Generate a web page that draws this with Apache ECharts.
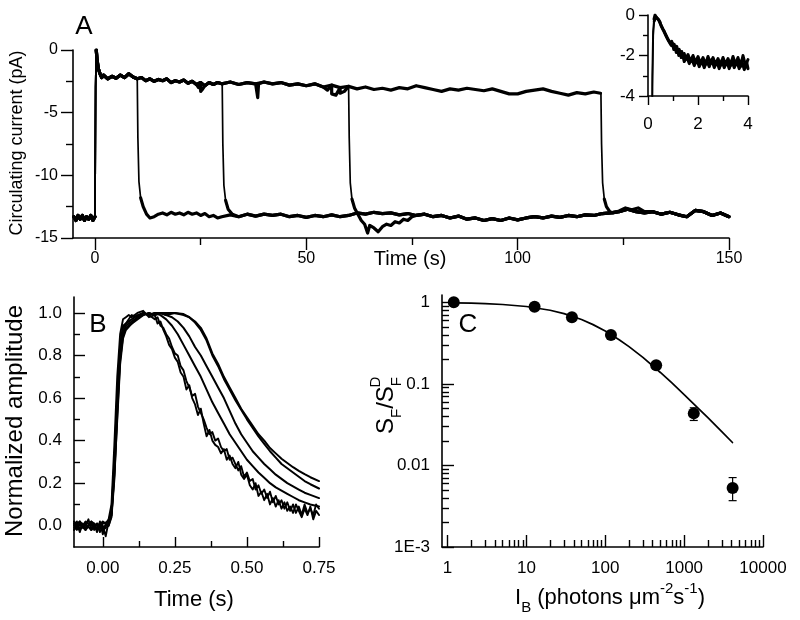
<!DOCTYPE html>
<html>
<head>
<meta charset="utf-8">
<script src="https://cdn.jsdelivr.net/npm/echarts@6/dist/echarts.min.js"></script>
<style>
html,body{margin:0;padding:0;background:#fff;}
#chart{width:800px;height:620px;}
</style>
</head>
<body>
<div id="chart"></div>
<script>
// ---------------- Panel A: circulating current traces ----------------
const aPre = [[-5,-13.3],[-4.5,-13.6],[-4,-13.2],[-3.5,-13.5],[-3,-13.2],[-2.5,-13.6],[-2,-13.3],[-1.5,-13.5],[-1,-13.2],[-0.5,-13.6],[0,-13.3]];
const aRise = [[0.15,-3],[0.3,0],[0.5,-0.8],[0.8,-1.5],[1.2,-1.9],[1.6,-2.2]];
const aTop = [[2,-2.0],[3,-2.3],[4,-2.1],[5,-2.25],[6,-2.0],[7,-2.2],[8,-1.9],[9,-2.15],[10,-2.3],[11,-2.2],[12,-2.45],[13,-2.3],[14,-2.5],[15,-2.35],[16,-2.45],[17,-2.3],[18,-2.6],[19,-2.45],[20,-2.55],[21,-2.4],[22,-2.65],[23,-2.5],[24,-2.75],[25,-2.6],[26,-2.85],[27,-2.6],[28,-2.75],[29,-2.6],[30,-2.7],[32,-2.55],[34,-2.75],[36,-2.6],[38,-2.7],[40,-2.55],[42,-2.7],[44,-2.6],[46,-2.8],[48,-2.7],[50,-2.85],[52,-2.7],[54,-2.95],[56,-2.8],[58,-3.0],[60,-2.9],[62,-3.1],[64,-2.95],[66,-3.15],[68,-3.05],[70,-3.2],[72,-3.0],[74,-3.1],[76,-2.85],[78,-3.0],[80,-3.15],[82,-3.3],[84,-3.1],[86,-3.2],[88,-3.05],[90,-3.15],[92,-3.25],[94,-3.1],[96,-3.3],[98,-3.5],[100,-3.5],[102,-3.3],[104,-3.2],[106,-3.1],[108,-3.3],[110,-3.45],[112,-3.6],[114,-3.4],[116,-3.5],[118,-3.35],[119.6,-3.45]];
const aTopAlt = [[24.5,-3.0],[25,-3.3],[25.5,-3.1],[38.3,-2.7],[38.5,-3.8],[38.7,-2.7],[55,-3.2],[56,-3.5],[57,-3.6],[58,-3.45],[59,-3.3]];
const aLow = [[14,-13.3],[15,-13.1],[16,-13.0],[17,-13.15],[18,-12.95],[19,-13.1],[20,-13.0],[21,-13.15],[22,-12.95],[23,-13.1],[24,-13.0],[25,-13.2],[26,-13.05],[27,-13.3],[28,-13.2],[29,-13.4],[30,-13.3],[32,-13.15],[34,-13.3],[36,-13.1],[38,-13.25],[40,-13.1],[42,-13.2],[44,-13.1],[46,-13.3],[48,-13.2],[50,-13.35],[52,-13.2],[54,-13.3],[56,-13.15],[58,-13.3],[60,-13.2],[62,-13.0],[64,-13.1],[66,-12.95],[68,-13.05],[70,-13.0],[72,-13.15],[74,-13.05],[76,-13.2],[78,-13.1],[80,-13.3],[82,-13.2],[84,-13.4],[86,-13.25],[88,-13.5],[90,-13.4],[92,-13.6],[94,-13.45],[96,-13.6],[98,-13.4],[100,-13.55],[102,-13.4],[104,-13.3],[106,-13.4],[108,-13.25],[110,-13.35],[112,-13.2],[114,-13.3],[116,-13.15],[118,-13.2],[120,-13.05],[122,-13.0],[124,-12.9],[126,-12.7],[128,-12.9],[130,-13.0],[132,-12.9],[134,-13.1],[136,-12.95],[138,-13.15],[140,-13.3],[142,-12.8],[144,-12.9],[146,-13.2],[148,-13.0],[150,-13.3]];
const aDrop10 = [[10,-2.3],[10.15,-7],[10.4,-10.5],[10.8,-11.8],[11.4,-12.5],[12.2,-13.1],[13,-13.4]];
const aDrop30 = [[30.1,-2.7],[30.25,-7.5],[30.5,-10.8],[30.9,-12],[31.5,-12.7],[32.5,-13.1]];
const aDrop60 = [[60.0,-2.9],[60.15,-7],[60.4,-10.6],[60.8,-11.9],[61.4,-12.6],[62.2,-13.1],[63,-13.6],[63.8,-13.9],[64.5,-14.6],[65,-14.0],[66,-14.2],[67,-14.5],[68,-14.1],[69,-13.9],[70,-14.0],[71,-13.7],[72,-13.8],[73,-13.5],[74,-13.6],[75,-13.3]];
const aDrop120 = [[119.7,-3.45],[119.85,-7.5],[120.1,-10.6],[120.5,-11.9],[121,-12.5],[121.8,-12.9],[122.6,-13.0],[124,-12.85],[125.5,-12.6],[127,-12.75],[128.5,-12.6],[130,-12.9]];
const aXTicks = [0,50,100,150];
const aXMinorTicks = [25,75,125];

// ---------------- Inset: first 4 s ----------------
const insetTraceA = [[0.15,-13.3],[0.18,-3.5],[0.21,-1.0],[0.25,-0.3],[0.3,-0.1],[0.35,-0.05],[0.4,-0.2],[0.45,-0.3],[0.5,-0.45],[0.55,-0.5],[0.6,-0.7],[0.65,-0.8],[0.7,-0.95],[0.75,-1.0],[0.8,-1.2],[0.85,-1.25],[0.9,-1.4],[0.95,-1.3],[1.0,-1.55],[1.05,-1.45],[1.1,-1.7],[1.15,-1.55],[1.2,-1.85],[1.25,-1.7],[1.3,-1.95],[1.35,-1.8],[1.4,-2.1],[1.45,-1.9],[1.5,-2.2],[1.6,-1.95],[1.7,-2.3],[1.8,-2.0],[1.9,-2.35],[2.0,-2.05],[2.1,-2.4],[2.2,-2.1],[2.3,-2.45],[2.4,-2.05],[2.5,-2.4],[2.6,-2.1],[2.7,-2.45],[2.8,-2.15],[2.9,-2.5],[3.0,-2.1],[3.1,-2.45],[3.2,-2.15],[3.3,-2.5],[3.4,-2.05],[3.5,-2.45],[3.6,-2.1],[3.7,-2.55],[3.8,-2.0],[3.9,-2.5],[4.0,-2.2]];
const insetTraceB = [[0.14,-13.3],[0.17,-3],[0.2,-0.8],[0.24,-0.2],[0.28,0],[0.33,-0.1],[0.38,-0.1],[0.43,-0.25],[0.48,-0.35],[0.53,-0.55],[0.58,-0.6],[0.63,-0.8],[0.68,-0.85],[0.73,-1.05],[0.78,-1.1],[0.83,-1.3],[0.88,-1.25],[0.93,-1.5],[0.98,-1.4],[1.03,-1.7],[1.08,-1.55],[1.13,-1.85],[1.18,-1.7],[1.23,-2.0],[1.28,-1.85],[1.33,-2.1],[1.38,-1.95],[1.45,-2.3],[1.55,-2.05],[1.65,-2.4],[1.75,-2.15],[1.85,-2.5],[1.95,-2.2],[2.05,-2.55],[2.15,-2.25],[2.25,-2.6],[2.35,-2.25],[2.45,-2.55],[2.55,-2.2],[2.65,-2.6],[2.75,-2.3],[2.85,-2.65],[2.95,-2.25],[3.05,-2.6],[3.15,-2.3],[3.25,-2.65],[3.35,-2.25],[3.45,-2.6],[3.55,-2.3],[3.65,-2.65],[3.75,-2.25],[3.85,-2.7],[3.95,-2.35],[4.0,-2.65]];

// ---------------- Panel B: normalized responses ----------------
const bTrace1 = [[-0.1,0.01],[-0.09,-0.02],[-0.08,0.02],[-0.07,-0.01],[-0.06,0.0],[-0.05,0.03],[-0.04,-0.02],[-0.03,0.01],[-0.02,-0.03],[-0.01,0.02],[0,-0.04],[0.01,0.01],[0.02,0.03],[0.03,0.1],[0.04,0.38],[0.05,0.7],[0.06,0.9],[0.07,0.97],[0.08,0.98],[0.09,0.99],[0.1,0.98],[0.12,1.0],[0.14,1.01],[0.16,0.98],[0.18,0.99],[0.19,0.95],[0.2,0.96],[0.21,0.92],[0.22,0.89],[0.23,0.85],[0.24,0.83],[0.25,0.79],[0.26,0.77],[0.27,0.72],[0.28,0.7],[0.29,0.64],[0.3,0.66],[0.31,0.6],[0.32,0.57],[0.33,0.52],[0.34,0.55],[0.35,0.48],[0.36,0.42],[0.37,0.45],[0.38,0.4],[0.39,0.38],[0.4,0.37],[0.41,0.34],[0.42,0.36],[0.43,0.31],[0.44,0.33],[0.45,0.29],[0.46,0.27],[0.47,0.3],[0.48,0.24],[0.49,0.22],[0.5,0.24],[0.51,0.19],[0.52,0.17],[0.53,0.2],[0.54,0.14],[0.55,0.16],[0.56,0.12],[0.57,0.15],[0.58,0.1],[0.59,0.13],[0.6,0.09],[0.61,0.12],[0.62,0.08],[0.63,0.11],[0.64,0.07],[0.65,0.09],[0.66,0.06],[0.67,0.1],[0.68,0.07],[0.69,0.04],[0.7,0.08],[0.71,0.05],[0.72,0.09],[0.73,0.03],[0.74,0.07],[0.75,0.05]];
const bTrace2 = [[-0.1,-0.01],[-0.09,0.02],[-0.08,-0.03],[-0.07,0.01],[-0.06,-0.02],[-0.05,0.0],[-0.04,0.02],[-0.03,-0.02],[-0.02,0.01],[-0.01,-0.03],[0,0.0],[0.01,-0.05],[0.02,0.02],[0.03,0.07],[0.04,0.3],[0.05,0.62],[0.06,0.85],[0.07,0.94],[0.08,0.95],[0.09,0.97],[0.1,0.99],[0.12,0.98],[0.14,1.0],[0.16,0.99],[0.18,0.97],[0.19,0.98],[0.2,0.94],[0.21,0.93],[0.22,0.9],[0.23,0.88],[0.24,0.84],[0.25,0.81],[0.26,0.8],[0.27,0.75],[0.28,0.73],[0.29,0.68],[0.3,0.65],[0.31,0.61],[0.32,0.62],[0.33,0.56],[0.34,0.53],[0.35,0.5],[0.36,0.46],[0.37,0.43],[0.38,0.44],[0.39,0.4],[0.4,0.41],[0.41,0.37],[0.42,0.35],[0.43,0.36],[0.44,0.31],[0.45,0.32],[0.46,0.29],[0.47,0.26],[0.48,0.28],[0.49,0.23],[0.5,0.25],[0.51,0.21],[0.52,0.22],[0.53,0.17],[0.54,0.19],[0.55,0.15],[0.56,0.17],[0.57,0.13],[0.58,0.16],[0.59,0.11],[0.6,0.14],[0.61,0.1],[0.62,0.12],[0.63,0.08],[0.64,0.11],[0.65,0.07],[0.66,0.1],[0.67,0.06],[0.68,0.09],[0.69,0.05],[0.7,0.1],[0.71,0.06],[0.72,0.08],[0.73,0.05],[0.74,0.1],[0.75,0.08]];
const bTrace3 = [[-0.1,0.0],[-0.08,0.02],[-0.06,-0.01],[-0.04,0.01],[-0.02,-0.02],[0,0.01],[0.02,0.02],[0.03,0.06],[0.04,0.28],[0.05,0.6],[0.06,0.84],[0.07,0.93],[0.08,0.95],[0.1,0.97],[0.12,0.99],[0.14,1.0],[0.16,0.99],[0.18,1.0],[0.2,0.99],[0.22,0.97],[0.24,0.94],[0.26,0.9],[0.28,0.85],[0.3,0.8],[0.32,0.75],[0.34,0.7],[0.36,0.64],[0.38,0.58],[0.4,0.53],[0.42,0.48],[0.44,0.43],[0.46,0.39],[0.48,0.35],[0.5,0.31],[0.52,0.28],[0.54,0.25],[0.56,0.225],[0.58,0.2],[0.6,0.18],[0.62,0.165],[0.64,0.15],[0.66,0.135],[0.68,0.12],[0.7,0.11],[0.72,0.1],[0.75,0.09]];
const bTrace4 = [[-0.1,0.02],[-0.08,-0.01],[-0.06,0.01],[-0.04,-0.02],[-0.02,0.01],[0,-0.01],[0.02,0.01],[0.03,0.05],[0.04,0.25],[0.05,0.55],[0.06,0.8],[0.07,0.91],[0.08,0.94],[0.1,0.96],[0.12,0.98],[0.14,0.99],[0.16,1.0],[0.18,0.99],[0.2,1.0],[0.22,0.99],[0.24,0.98],[0.26,0.96],[0.28,0.93],[0.3,0.89],[0.32,0.84],[0.34,0.8],[0.36,0.75],[0.38,0.7],[0.4,0.65],[0.42,0.6],[0.44,0.54],[0.46,0.48],[0.48,0.43],[0.5,0.39],[0.52,0.35],[0.54,0.32],[0.56,0.29],[0.58,0.265],[0.6,0.24],[0.62,0.22],[0.64,0.2],[0.66,0.185],[0.68,0.17],[0.7,0.155],[0.72,0.145],[0.75,0.13]];
const bTrace5 = [[-0.1,-0.02],[-0.08,0.01],[-0.06,-0.02],[-0.04,0.02],[-0.02,0.0],[0,-0.02],[0.02,0.0],[0.03,0.04],[0.04,0.22],[0.05,0.52],[0.06,0.78],[0.07,0.89],[0.08,0.93],[0.1,0.95],[0.12,0.98],[0.14,1.0],[0.16,0.99],[0.18,1.0],[0.2,1.0],[0.22,0.99],[0.25,1.0],[0.28,0.995],[0.3,0.98],[0.32,0.955],[0.34,0.92],[0.36,0.87],[0.38,0.8],[0.4,0.75],[0.42,0.69],[0.44,0.64],[0.46,0.59],[0.48,0.545],[0.5,0.5],[0.52,0.46],[0.54,0.42],[0.56,0.385],[0.58,0.35],[0.6,0.32],[0.62,0.29],[0.64,0.27],[0.66,0.25],[0.68,0.23],[0.7,0.21],[0.72,0.195],[0.75,0.175]];
const bTrace6 = [[-0.1,0.01],[-0.08,-0.02],[-0.06,0.02],[-0.04,0.0],[-0.02,-0.01],[0,0.02],[0.02,0.0],[0.03,0.05],[0.04,0.24],[0.05,0.5],[0.06,0.76],[0.07,0.88],[0.08,0.92],[0.1,0.95],[0.12,0.97],[0.14,0.99],[0.16,1.0],[0.18,0.99],[0.2,1.0],[0.22,1.0],[0.25,1.0],[0.28,0.99],[0.3,0.98],[0.32,0.96],[0.34,0.93],[0.36,0.88],[0.38,0.81],[0.4,0.76],[0.42,0.7],[0.44,0.65],[0.46,0.6],[0.48,0.55],[0.5,0.51],[0.52,0.47],[0.54,0.43],[0.56,0.4],[0.58,0.365],[0.6,0.34],[0.62,0.315],[0.64,0.295],[0.66,0.275],[0.68,0.258],[0.7,0.242],[0.72,0.228],[0.75,0.21]];
const bXTicks = [0,0.25,0.5,0.75];
const bXMinorTicks = [0.125,0.375,0.625];
const bYTicks = [0,0.2,0.4,0.6,0.8,1.0];
const bYMinorTicks = [0.1,0.3,0.5,0.7,0.9];

// ---------------- Panel C: sensitivity vs background ----------------
const cIntensity = [1.2, 12.7, 37.8, 118, 442, 1325, 4120];
const cRatio = [1.0, 0.88, 0.655, 0.397, 0.169, 0.0435, 0.0053];
const cErrLow = [1.0, 0.88, 0.655, 0.397, 0.155, 0.0356, 0.0037];
const cErrHigh = [1.0, 0.88, 0.655, 0.397, 0.185, 0.0509, 0.0071];
const cFitIntensity = [1.2, 2, 3, 5, 10, 20, 30, 50, 70, 100, 150, 200, 300, 500, 700, 1000, 1500, 2000, 3000, 4100];
const cFitRatio = [0.985, 0.976, 0.964, 0.941, 0.889, 0.8, 0.727, 0.615, 0.533, 0.444, 0.348, 0.286, 0.211, 0.138, 0.1026, 0.074, 0.0506, 0.0385, 0.026, 0.0191];
const cXDecadeLabels = ['1','10','100','1000','10000'];
const cYDecadeLabels = ['1E-3','0.01','0.1','1'];

// ---------------- build ----------------
const FONT = 'Liberation Sans, Arial, sans-serif';
const BLACK = '#000';

function upTo(arr, t) { return arr.filter(p => p[0] < t); }
function after(arr, t) { return arr.filter(p => p[0] > t); }
function mergeAlt(base, alt) {
  const out = base.slice();
  alt.forEach(p => out.push(p));
  out.sort((a, b) => a[0] - b[0]);
  return out;
}
const traceA10 = [].concat(aPre, aRise, upTo(aTop, 10), aDrop10, after(aLow, 13));
const traceA30 = [].concat(aPre, aRise, upTo(aTop, 30.1), aDrop30, after(aLow, 32.5));
const traceA60 = [].concat(aPre, aRise, upTo(aTop, 60), aDrop60, after(aLow, 75));
const traceA120 = [].concat(aPre, aRise, upTo(mergeAlt(aTop, aTopAlt), 119.7), aDrop120, after(aLow, 130));

// split a trace into thick (noisy) and thin (fast transition) runs
function splitRuns(trace, thinRanges) {
  const isThin = (a, b) => thinRanges.some(r => a[0] >= r[0] && b[0] <= r[1]);
  const runs = [];
  let cur = null;
  for (let i = 1; i < trace.length; i++) {
    const thin = isThin(trace[i - 1], trace[i]);
    if (!cur || cur.thin !== thin) {
      cur = { thin, pts: [trace[i - 1]] };
      runs.push(cur);
    }
    cur.pts.push(trace[i]);
  }
  return runs;
}

const log10 = Math.log10;
function logTicks(fromDec, toDec) {
  const out = [];
  for (let d = fromDec; d < toDec; d++) for (let k = 2; k <= 9; k++) out.push(d + log10(k));
  return out;
}

const xAxes = [], yAxes = [];
function axisPair(list, gridIndex, pos, min, max, major, minor, fmt, inside, majorLen, minorLen, margin, fontSize) {
  const idx = list.length;
  list.push({
    type: 'value', gridIndex, position: pos, min, max,
    axisLine: { show: true, onZero: false, lineStyle: { color: BLACK, width: 1.6 } },
    axisTick: { show: true, inside, length: majorLen, customValues: major, lineStyle: { color: BLACK, width: 1.4 } },
    axisLabel: { show: true, customValues: major, formatter: fmt, margin, color: BLACK, fontSize, fontFamily: FONT, hideOverlap: false },
    splitLine: { show: false }, minorTick: { show: false }
  });
  if (minor && minor.length) {
    list.push({
      type: 'value', gridIndex, position: pos, min, max,
      axisLine: { show: false, onZero: false },
      axisTick: { show: true, inside, length: minorLen, customValues: minor, lineStyle: { color: BLACK, width: 1.4 } },
      axisLabel: { show: false },
      splitLine: { show: false }
    });
  }
  return idx;
}

const grids = [
  { left: 73, top: 50, width: 656, height: 188 },   // A
  { left: 648, top: 15, width: 100, height: 81 },   // inset
  { left: 74, top: 297, width: 245, height: 250 },  // B
  { left: 442, top: 295, width: 321, height: 252 }  // C
];

const axX_A = axisPair(xAxes, 0, 'bottom', -5.2, 150, aXTicks, aXMinorTicks, v => String(Math.round(v)), false, 12, 7, 13, 16);
const axY_A = axisPair(yAxes, 0, 'left', -15, 0, [-15,-10,-5,0], [-12.5,-7.5,-2.5], v => String(Math.round(v)), false, 12, 7, 15, 16);
const axX_I = axisPair(xAxes, 1, 'bottom', 0, 4, [0,2,4], [1,3], v => String(Math.round(v)), false, 9, 5, 20, 17);
const axY_I = axisPair(yAxes, 1, 'left', -4, 0, [-4,-2,0], [-3,-1], v => String(Math.round(v)), false, 9, 5, 13, 17);
const axX_B = axisPair(xAxes, 2, 'bottom', -0.1, 0.75, bXTicks, bXMinorTicks, v => v.toFixed(2), true, 10, 6, 13, 17);
const axY_B = axisPair(yAxes, 2, 'left', -0.1, 1.075, bYTicks, bYMinorTicks, v => v.toFixed(1), true, 11, 6, 12, 17);
const axX_C = axisPair(xAxes, 3, 'bottom', -0.07, 4, [0,1,2,3,4], logTicks(0, 4), v => cXDecadeLabels[Math.round(v)], true, 12, 7, 13, 17);
const axY_C = axisPair(yAxes, 3, 'left', -3, 0.09, [-3,-2,-1,0], logTicks(-3, 0), v => cYDecadeLabels[Math.round(v) + 3], true, 12, 7, 12, 17);

function lineSeries(xi, yi, data, width) {
  return { type: 'line', xAxisIndex: xi, yAxisIndex: yi, data, symbol: 'none', showSymbol: false,
    lineStyle: { color: BLACK, width, join: 'round', cap: 'round' }, clip: true, animation: false, silent: true };
}

const series = [];
[[traceA10, 10], [traceA30, 30.1], [traceA60, 60], [traceA120, 119.7]].forEach(([tr, td]) => {
  splitRuns(tr, [[-0.01, 0.31], [td - 0.01, td + 0.85]]).forEach(run => {
    series.push(lineSeries(axX_A, axY_A, run.pts, run.thin ? 1.7 : 3.2));
  });
});
[insetTraceA, insetTraceB].forEach(tr => {
  splitRuns(tr, [[0, 0.26]]).forEach(run => {
    series.push(lineSeries(axX_I, axY_I, run.pts, run.thin ? 1.7 : 3.0));
  });
});
[bTrace1, bTrace2].forEach(tr => series.push(lineSeries(axX_B, axY_B, tr, 1.9)));
[bTrace3, bTrace4, bTrace5, bTrace6].forEach(tr => series.push(lineSeries(axX_B, axY_B, tr, 2.0)));
series.push(lineSeries(axX_C, axY_C, cFitIntensity.map((v, i) => [log10(v), log10(cFitRatio[i])]), 1.7));
series.push({
  type: 'custom', xAxisIndex: axX_C, yAxisIndex: axY_C, animation: false, silent: true,
  data: cIntensity.map((v, i) => [log10(v), log10(cErrLow[i]), log10(cErrHigh[i])]),
  renderItem: function (params, api) {
    const x = api.value(0);
    const lo = api.coord([x, api.value(1)]);
    const hi = api.coord([x, api.value(2)]);
    const st = { stroke: BLACK, lineWidth: 1.2 };
    return { type: 'group', children: [
      { type: 'line', shape: { x1: lo[0], y1: lo[1], x2: hi[0], y2: hi[1] }, style: st },
      { type: 'line', shape: { x1: lo[0] - 4, y1: lo[1], x2: lo[0] + 4, y2: lo[1] }, style: st },
      { type: 'line', shape: { x1: hi[0] - 4, y1: hi[1], x2: hi[0] + 4, y2: hi[1] }, style: st }
    ]};
  }
});
series.push({ type: 'scatter', xAxisIndex: axX_C, yAxisIndex: axY_C, symbol: 'circle', symbolSize: 12,
  itemStyle: { color: BLACK, opacity: 1 }, animation: false, silent: true,
  data: cIntensity.map((v, i) => [log10(v), log10(cRatio[i])]) });

const txt = (x, y, text, size, extra) => Object.assign({
  type: 'text', x, y, silent: true,
  style: { text, fill: BLACK, font: size + 'px ' + FONT, align: 'center', verticalAlign: 'middle' }
}, extra || {});

const richMain = (size) => ({ fontSize: size, fontFamily: FONT, color: BLACK, lineHeight: size + 12, verticalAlign: 'middle' });
const graphic = [
  txt(84, 27, 'A', 26),
  txt(98, 325, 'B', 26),
  txt(468, 325, 'C', 26),
  txt(17, 143, 'Circulating current (pA)', 18, { rotation: Math.PI / 2 }),
  txt(410, 259, 'Time (s)', 20),
  txt(15, 421, 'Normalized amplitude', 24, { rotation: Math.PI / 2 }),
  txt(194, 600, 'Time (s)', 22),
  {
    type: 'text', x: 610, y: 598, silent: true,
    style: {
      text: '{m|I}{sb|B}{m| (photons \u03BCm}{sp|-2}{m|s}{sp|-1}{m|)}',
      align: 'center', verticalAlign: 'middle',
      rich: {
        m: richMain(22),
        sb: { fontSize: 15, fontFamily: FONT, color: BLACK, lineHeight: 15, verticalAlign: 'bottom' },
        sp: { fontSize: 15, fontFamily: FONT, color: BLACK, lineHeight: 15, verticalAlign: 'top' }
      }
    }
  },
  {
    type: 'group', x: 386, y: 404, rotation: Math.PI / 2, silent: true,
    children: [
      {
        type: 'text', x: -30, y: 0,
        style: {
          text: '{m|S}{sb|F}{m|/S}{sb|F}', align: 'left', verticalAlign: 'middle',
          rich: {
            m: richMain(24),
            sb: { fontSize: 15, fontFamily: FONT, color: BLACK, lineHeight: 15, verticalAlign: 'bottom' }
          }
        }
      },
      txt(22, -10, 'D', 15)
    ]
  }
];

const chart = echarts.init(document.getElementById('chart'), null, { renderer: 'canvas' });
chart.setOption({
  animation: false,
  backgroundColor: '#fff',
  grid: grids,
  xAxis: xAxes,
  yAxis: yAxes,
  series,
  graphic
});
</script>
</body>
</html>
